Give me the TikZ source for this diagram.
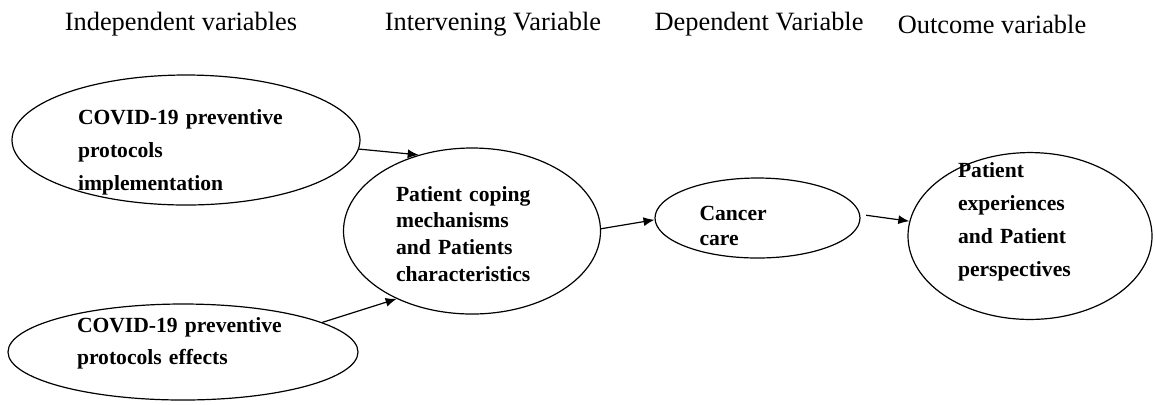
\documentclass[tikz,border=0pt]{standalone}
\usepackage{fontspec}
\setmainfont{Liberation Serif}
\usetikzlibrary{shapes.geometric,arrows.meta}
\tikzstyle{heading} = [font=\fontsize{13.2}{15}\selectfont]
\tikzstyle{varbox} = [ellipse, draw=black, semithick, inner sep=0pt, align=left]
\tikzstyle{arrow}=[semithick,-{Latex[length=5.5pt,width=4.5pt]}]

\begin{document}
\begin{tikzpicture}[x=0.5pt,y=-0.5pt]
\useasboundingbox (0,0) rectangle (1155,404);
\node(indep)[heading] at (181,24){Independent variables};
\node(interv)[heading] at (493,24){Intervening Variable};
\node(depend)[heading] at (759,24){Dependent Variable};
\node(outvar)[heading] at (992,24){Outcome variable};

\node(implement)[varbox,minimum width=174pt,minimum height=65pt,
  font=\bfseries\fontsize{10.8}{16.5}\selectfont,text width=108pt,
  text height=8pt,text depth=24pt] at (186,140)
  {COVID-19 preventive\\protocols\\implementation};
\node(effects)[varbox,minimum width=175pt,minimum height=48pt,
  font=\bfseries\fontsize{10.8}{16}\selectfont,text width=106pt,
  text height=2pt,text depth=22pt] at (183,352)
  {COVID-19 preventive\\protocols effects};
\node(coping)[varbox,minimum width=128.5pt,minimum height=83pt,
  font=\bfseries\fontsize{10.8}{13.4}\selectfont,text width=76pt,
  text height=8pt,text depth=38pt] at (472,231)
  {Patient coping\\mechanisms\\and Patients\\characteristics};
\node(cancer)[varbox,minimum width=102.5pt,minimum height=40pt,
  font=\bfseries\fontsize{10.8}{12.5}\selectfont,text width=58pt,
  text height=12pt,text depth=10pt] at (757.5,218)
  {Cancer\\care};
\node(outcome)[varbox,minimum width=122pt,minimum height=82pt,
  font=\bfseries\fontsize{10.8}{16.5}\selectfont,text width=72pt,
  text height=-3pt,text depth=59pt] at (1030,236)
  {Patient\\experiences\\and Patient\\perspectives};

\draw[arrow](implement.-3)--(coping.125);
\draw[arrow](effects.12)--(coping.222);
\draw[arrow](coping.1)--(cancer.181);
\draw[arrow,shorten <=3pt](cancer.2)--(outcome.173);
\end{tikzpicture}
\end{document}
